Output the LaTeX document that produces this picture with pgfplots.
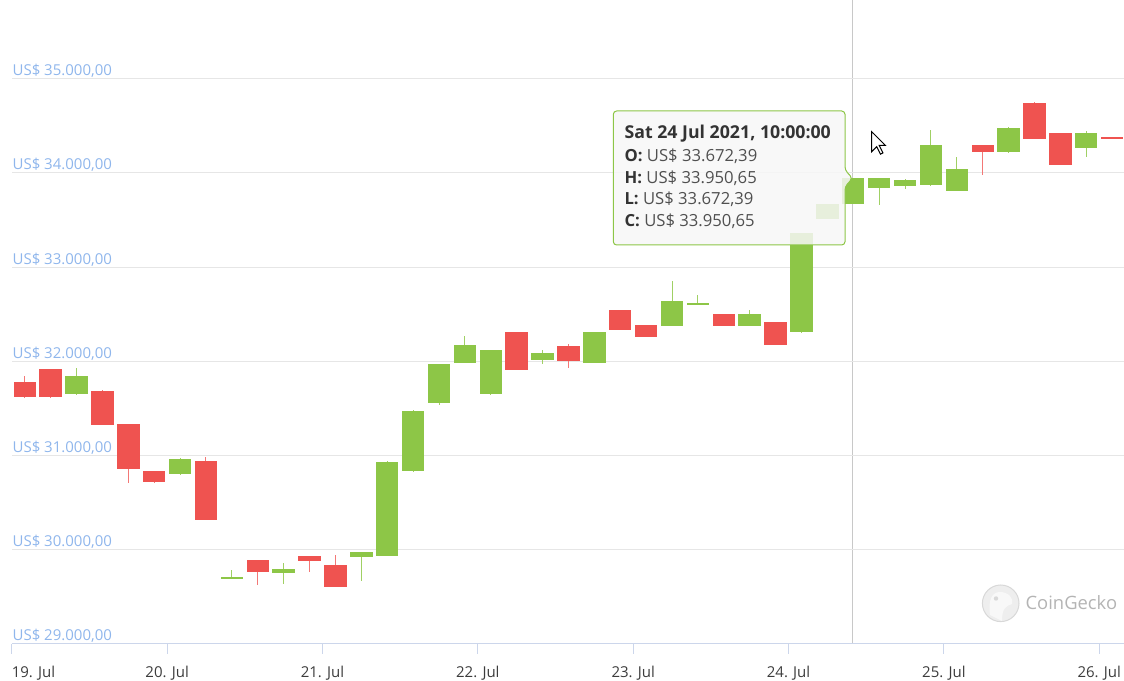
\documentclass[border=0pt]{standalone}
\usepackage{pgfplots}
\pgfplotsset{compat=1.18}
\usepackage{pgfplotstable}
\usepackage{fontspec}
\setmainfont{Open Sans}
\definecolor{cgreen}{RGB}{141,198,71}
\definecolor{cred}{RGB}{239,83,80}
\definecolor{wgreen}{RGB}{160,208,100}
\definecolor{wred}{RGB}{243,120,118}
\definecolor{labelblue}{RGB}{143,182,236}
\definecolor{gridcol}{RGB}{230,230,230}
\definecolor{axiscol}{RGB}{204,214,235}
\definecolor{ticktext}{RGB}{60,60,60}
\definecolor{crosscol}{RGB}{200,200,200}
\definecolor{tipbg}{RGB}{247,247,247}
\definecolor{tipgreen}{RGB}{141,198,71}
\definecolor{tipdark}{RGB}{51,51,51}
\definecolor{tiptext}{RGB}{80,80,80}
\definecolor{logofill}{RGB}{238,238,238}
\definecolor{logodraw}{RGB}{216,216,216}
\definecolor{logotext}{RGB}{180,180,180}
\newcommand\lblfont{\fontsize{11.25pt}{13.5pt}\selectfont}
\newcommand\tipfont{\fontsize{12.5pt}{15pt}\selectfont}
\newcommand\tiphfont{\fontsize{13.3pt}{16pt}\selectfont}
\newcommand\logofont{\fontsize{13.8pt}{16pt}\selectfont}

% x = hours after 19 Jul 00:00; O H L C in US$
\pgfplotstableread{
x   O        H        L        C
10  31650    31932    31645    31844
26  30800    30970    30795    30966
34  29692    29784    29688    29710
42  29753    29859    29639    29798
54  29926    29980    29671    29976
58  29936    30940    29930    30934
62  30832    31480    30828    31476
66  31560    31975    31540    31971
70  31982    32269    31980    32176
74  31650    32125    31645    32120
82  32011    32120    31975    32088
90  31982    32310    31980    32308
102 32378    32852    32375    32643
106 32608    32707    32605    32619
114 32375    32545    32372    32499
122 32308    33365    32305    33359
126 33514    33675    33510    33672
130 33672.39 33950.65 33672.39 33950.65
134 33837    33950    33659    33945
138 33864    33930    33832    33928
142 33868    34455    33865    34293
146 33808    34166    33805    34045
154 34219    34484    34215    34480
166 34261    34442    34172    34424
}\greentab

\pgfplotstableread{
x   O        H        L        C
2   31780    31844    31612    31618
6   31915    31918    31610    31618
14  31682    31690    31320    31327
18  31331    31335    30711    30860
22  30835    30840    30710    30715
30  30938    30984    30310    30318
38  29887    29890    29628    29763
46  29930    29932    29760    29880
50  29841    29947    29600    29604
78  32308    32310    31905    31911
86  32162    32184    31932    32000
94  32541    32545    32330    32332
98  32382    32385    32258    32261
110 32502    32505    32372    32375
118 32414    32418    32170    32173
150 34293    34296    33978    34219
158 34745    34748    34357    34360
162 34424    34428    34080    34084
170 34378    34380    34370    34372
}\redtab

\begin{document}
\begin{tikzpicture}
\useasboundingbox (-8.85pt,-27.825pt) rectangle (834.15pt,482.925pt);
\begin{scope}[shift={(-8.85pt,482.925pt)}, x=0.75pt, y=-0.75pt]
\draw[crosscol, line width=1.2pt] (852.5,0) -- (852.5,643.9);
\end{scope}
\begin{axis}[
  at={(0,0)}, anchor=south west,
  scale only axis, width=834.15pt, height=482.925pt,
  xmin=0, xmax=171.83, ymin=29000, ymax=35835.5,
  scaled y ticks=false, scaled x ticks=false,
  axis x line*=bottom, axis y line*=left,
  separate axis lines,
  x axis line style={draw=axiscol, line width=0.75pt, -},
  y axis line style={draw=none},
  xtick={0,24,48,72,96,120,144,168},
  xticklabels={{\makebox[0pt][l]{19. Jul}},20. Jul,21. Jul,22. Jul,23. Jul,24. Jul,25. Jul,26. Jul},
  x tick style={draw=axiscol, line width=0.75pt},
  tick align=outside, major tick length=7.5pt,
  xticklabel style={font=\lblfont, text=ticktext, anchor=base, inner sep=0pt, yshift=-17.5pt},
  ytick={29000,30000,31000,32000,33000,34000,35000},
  yticklabels={{US\$ 29.000,00},{US\$ 30.000,00},{US\$ 31.000,00},{US\$ 32.000,00},{US\$ 33.000,00},{US\$ 34.000,00},{US\$ 35.000,00}},
  y tick style={draw=none},
  yticklabel style={font=\lblfont, text=labelblue, anchor=base west, inner sep=0pt, xshift=7.9pt, yshift=2.25pt},
  ymajorgrids, major grid style={draw=gridcol, line width=0.75pt},
]
% wicks
\addplot[draw=none, mark=none, forget plot, error bars/.cd, y dir=both, y explicit, error mark=none,
  error bar style={draw=wgreen, line width=0.75pt}]
  table[x=x, y expr={(\thisrow{H}+\thisrow{L})/2}, y error expr={(\thisrow{H}-\thisrow{L})/2}] {\greentab};
\addplot[draw=none, mark=none, forget plot, error bars/.cd, y dir=both, y explicit, error mark=none,
  error bar style={draw=wred, line width=0.75pt}]
  table[x=x, y expr={(\thisrow{H}+\thisrow{L})/2}, y error expr={(\thisrow{H}-\thisrow{L})/2}] {\redtab};
% bodies
\addplot[draw=none, mark=none, forget plot, error bars/.cd, y dir=both, y explicit, error mark=none,
  error bar style={draw=cgreen, line width=16.8pt}]
  table[x=x, y expr={(\thisrow{O}+\thisrow{C})/2}, y error expr={abs(\thisrow{C}-\thisrow{O})/2}] {\greentab};
\addplot[draw=none, mark=none, forget plot, error bars/.cd, y dir=both, y explicit, error mark=none,
  error bar style={draw=cred, line width=16.8pt}]
  table[x=x, y expr={(\thisrow{O}+\thisrow{C})/2}, y error expr={abs(\thisrow{C}-\thisrow{O})/2}] {\redtab};
\end{axis}
\begin{scope}[shift={(-8.85pt,482.925pt)}, x=0.75pt, y=-0.75pt]
% tooltip
\draw[tipgreen, line width=0.75pt, fill=tipbg, fill opacity=0.85, rounded corners=2.5pt]
  (613.3,111) -- (845,111) -- (845,170) -- (852.5,178.3) -- (845,186.7) -- (845,245) -- (613.3,245) -- cycle;
\node[anchor=base west, inner sep=0pt, text=tipdark, font=\tiphfont\bfseries] at (624.3,139) {Sat 24 Jul 2021, 10:00:00};
\node[anchor=base west, inner sep=0pt, text=tiptext, font=\tipfont] at (624.3,161.7) {\textbf{\color{tipdark}O:} US\$ 33.672,39};
\node[anchor=base west, inner sep=0pt, text=tiptext, font=\tipfont] at (624.3,183.3) {\textbf{\color{tipdark}H:} US\$ 33.950,65};
\node[anchor=base west, inner sep=0pt, text=tiptext, font=\tipfont] at (624.3,205) {\textbf{\color{tipdark}L:} US\$ 33.672,39};
\node[anchor=base west, inner sep=0pt, text=tiptext, font=\tipfont] at (624.3,226.7) {\textbf{\color{tipdark}C:} US\$ 33.950,65};
% cursor
\filldraw[fill=white, draw=black, line width=0.75pt, line join=miter]
  (871.7,131.7) -- ++(0,20) -- ++(5,-5) -- ++(3.75,7.5) -- ++(2.5,-1.25) -- ++(-3.75,-7.5) -- ++(6.25,0) -- cycle;
% watermark
\filldraw[fill=logofill, draw=logodraw, line width=0.75pt] (1000.7,603.3) circle (18.3);
\fill[white!60!logofill] (990,615) .. controls (988,600) and (992,592) .. (1000,592) .. controls (1008,592) and (1014,598) .. (1012,604) .. controls (1006,606) and (1002,608) .. (1002,621) -- cycle;
\fill[logodraw] (996,598.5) circle (2.2);
\node[anchor=west, inner sep=0pt, text=logotext, font=\logofont] at (1025.3,602.3) {CoinGecko};
\end{scope}
\end{tikzpicture}
\end{document}
